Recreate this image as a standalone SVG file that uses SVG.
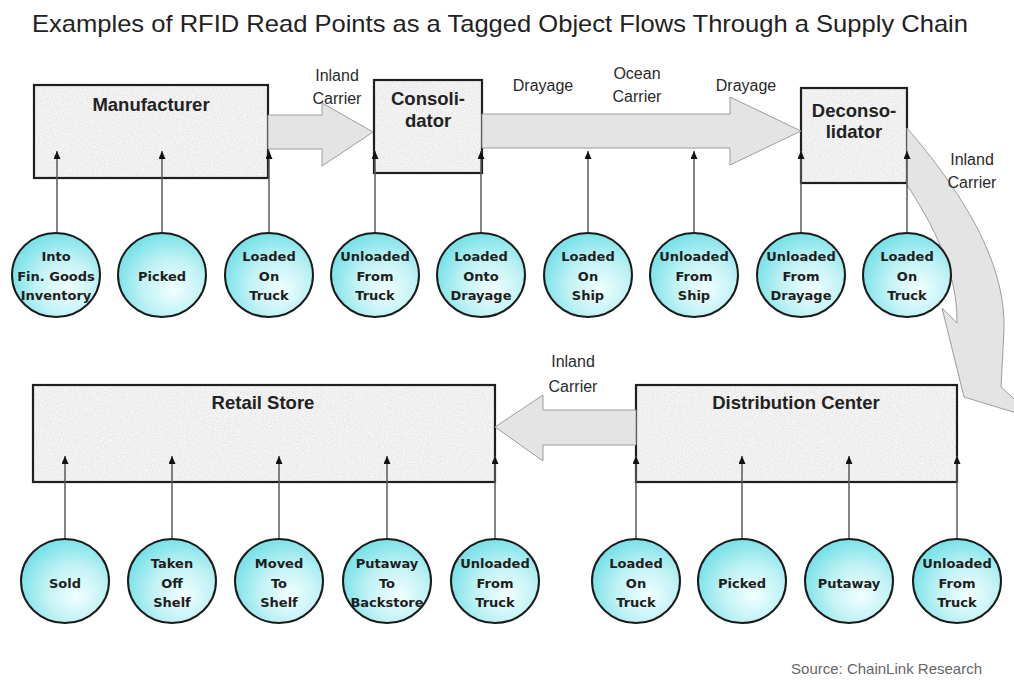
<svg xmlns="http://www.w3.org/2000/svg" width="1014" height="684" viewBox="0 0 1014 684">
<style>
.title{font-family:"Liberation Sans",Arial,sans-serif;font-size:24px;fill:#222}
.lbl{font-family:"Liberation Sans",Arial,sans-serif;font-size:16px;fill:#2a2a2a;text-anchor:middle}
.bt{font-family:"Liberation Sans",Arial,sans-serif;font-size:18.5px;font-weight:bold;fill:#222;text-anchor:middle}
.ct{font-family:"DejaVu Sans",Verdana,sans-serif;font-size:13px;font-weight:bold;fill:#1e1e1e;text-anchor:middle}
.src{font-family:"Liberation Sans",Arial,sans-serif;font-size:15px;fill:#666;text-anchor:end}
.boxfill{filter:url(#speckle)}
.boxedge{fill:none;stroke:#1f1f1f;stroke-width:2.2}
.flow{fill:#e4e4e4;stroke:#9c9c9c;stroke-width:1}
.rl{stroke:#5a5a5a;stroke-width:1.5;fill:none;marker-end:url(#ah)}
.rp{fill:url(#cy);stroke:#1a1a1a;stroke-width:2}
</style>
<defs>
<filter id="speckle" x="0" y="0" width="100%" height="100%">
<feTurbulence type="fractalNoise" baseFrequency="0.9" numOctaves="2" seed="4" result="n"/>
<feColorMatrix in="n" type="matrix" values="0.3 0 0 0 0.72  0.3 0 0 0 0.72  0.3 0 0 0 0.72  0 0 0 0 1" result="g"/>
<feComposite in="g" in2="SourceGraphic" operator="in"/>
</filter>
<radialGradient id="cy" cx="0.6" cy="0.62" r="0.62" fx="0.64" fy="0.68">
<stop offset="0" stop-color="#f2ffff"/>
<stop offset="0.55" stop-color="#c0f2f4"/>
<stop offset="1" stop-color="#7ae2e9"/>
</radialGradient>
<marker id="ah" markerWidth="8" markerHeight="7" refX="8" refY="3.5" orient="auto" markerUnits="userSpaceOnUse">
<path d="M0,0 L8,3.5 L0,7 z" fill="#111"/>
</marker>
</defs>
<rect width="1014" height="684" fill="#ffffff"/>
<text class="title" x="500" y="32" text-anchor="middle" textLength="936" lengthAdjust="spacingAndGlyphs">Examples of RFID Read Points as a Tagged Object Flows Through a Supply Chain</text>

<g id="manufacturer">
<rect class="boxfill" x="34" y="85" width="234" height="93" fill="#fff"/>
<rect class="boxedge" x="34" y="85" width="234" height="93"/>
<text class="bt" x="151" y="111">Manufacturer</text>
</g>
<g id="consolidator">
<rect class="boxfill" x="374" y="80" width="108" height="93" fill="#fff"/>
<rect class="boxedge" x="374" y="80" width="108" height="93"/>
<text class="bt" x="428" y="105">Consoli-</text>
<text class="bt" x="428" y="127">dator</text>
</g>
<g id="deconsolidator">
<rect class="boxfill" x="801" y="88" width="106" height="95" fill="#fff"/>
<rect class="boxedge" x="801" y="88" width="106" height="95"/>
<text class="bt" x="854" y="117">Deconso-</text>
<text class="bt" x="854" y="138">lidator</text>
</g>
<g id="retail-store">
<rect class="boxfill" x="33" y="385" width="462" height="97" fill="#fff"/>
<rect class="boxedge" x="33" y="385" width="462" height="97"/>
<text class="bt" x="263" y="409">Retail Store</text>
</g>
<g id="distribution-center">
<rect class="boxfill" x="636" y="385" width="321" height="97" fill="#fff"/>
<rect class="boxedge" x="636" y="385" width="321" height="97"/>
<text class="bt" x="796" y="409">Distribution Center</text>
</g>

<g id="connectors">
<g id="flows">
<polygon class="flow" points="268,115 322,115 322,103 373,132 322,166 322,149 268,149"/>
<polygon class="flow" points="482,114 730,114 730,97 801,131 730,165 730,148 482,148"/>
<path class="flow" d="M907,128 C960,190 1006,260 1004,330 L1001,387 L1036,419 L964,397 L942,308 L957,323 C958,270 930,220 907,185 Z"/>
<polygon class="flow" points="636,410 543,410 543,395 495,427 543,461 543,445 636,445"/>
<text class="lbl" x="337" y="81">Inland</text>
<text class="lbl" x="337" y="104">Carrier</text>
<text class="lbl" x="543" y="91">Drayage</text>
<text class="lbl" x="637" y="79">Ocean</text>
<text class="lbl" x="637" y="102">Carrier</text>
<text class="lbl" x="746" y="91">Drayage</text>
<text class="lbl" x="972" y="165">Inland</text>
<text class="lbl" x="972" y="188">Carrier</text>
<text class="lbl" x="573" y="367">Inland</text>
<text class="lbl" x="573" y="392">Carrier</text>
</g>
<g id="read-lines">
<line class="rl" x1="57" y1="232" x2="57" y2="151"/>
<line class="rl" x1="162" y1="232" x2="162" y2="151"/>
<line class="rl" x1="269" y1="232" x2="269" y2="151"/>
<line class="rl" x1="375" y1="232" x2="375" y2="151"/>
<line class="rl" x1="481" y1="232" x2="481" y2="151"/>
<line class="rl" x1="588" y1="232" x2="588" y2="151"/>
<line class="rl" x1="694" y1="232" x2="694" y2="151"/>
<line class="rl" x1="801" y1="232" x2="801" y2="151"/>
<line class="rl" x1="907" y1="232" x2="907" y2="151"/>
<line class="rl" x1="65" y1="539" x2="65" y2="456"/>
<line class="rl" x1="172" y1="539" x2="172" y2="456"/>
<line class="rl" x1="279" y1="539" x2="279" y2="456"/>
<line class="rl" x1="387" y1="539" x2="387" y2="456"/>
<line class="rl" x1="495" y1="539" x2="495" y2="456"/>
<line class="rl" x1="636" y1="539" x2="636" y2="456"/>
<line class="rl" x1="742" y1="539" x2="742" y2="456"/>
<line class="rl" x1="849" y1="539" x2="849" y2="456"/>
<line class="rl" x1="957" y1="539" x2="957" y2="456"/>
</g>
</g>

<g id="rp-into-inventory"><ellipse class="rp" cx="56" cy="275" rx="44" ry="42"/><text class="ct" x="56" y="261">Into</text><text class="ct" x="56" y="281">Fin. Goods</text><text class="ct" x="56" y="300">Inventory</text></g>
<g id="rp-picked-1"><ellipse class="rp" cx="162" cy="275" rx="44" ry="42"/><text class="ct" x="162" y="281">Picked</text></g>
<g id="rp-loaded-truck-1"><ellipse class="rp" cx="269" cy="275" rx="44" ry="42"/><text class="ct" x="269" y="261">Loaded</text><text class="ct" x="269" y="281">On</text><text class="ct" x="269" y="300">Truck</text></g>
<g id="rp-unloaded-truck-1"><ellipse class="rp" cx="375" cy="275" rx="44" ry="42"/><text class="ct" x="375" y="261">Unloaded</text><text class="ct" x="375" y="281">From</text><text class="ct" x="375" y="300">Truck</text></g>
<g id="rp-loaded-drayage"><ellipse class="rp" cx="481" cy="275" rx="44" ry="42"/><text class="ct" x="481" y="261">Loaded</text><text class="ct" x="481" y="281">Onto</text><text class="ct" x="481" y="300">Drayage</text></g>
<g id="rp-loaded-ship"><ellipse class="rp" cx="588" cy="275" rx="44" ry="42"/><text class="ct" x="588" y="261">Loaded</text><text class="ct" x="588" y="281">On</text><text class="ct" x="588" y="300">Ship</text></g>
<g id="rp-unloaded-ship"><ellipse class="rp" cx="694" cy="275" rx="44" ry="42"/><text class="ct" x="694" y="261">Unloaded</text><text class="ct" x="694" y="281">From</text><text class="ct" x="694" y="300">Ship</text></g>
<g id="rp-unloaded-drayage"><ellipse class="rp" cx="801" cy="275" rx="44" ry="42"/><text class="ct" x="801" y="261">Unloaded</text><text class="ct" x="801" y="281">From</text><text class="ct" x="801" y="300">Drayage</text></g>
<g id="rp-loaded-truck-2"><ellipse class="rp" cx="907" cy="275" rx="44" ry="42"/><text class="ct" x="907" y="261">Loaded</text><text class="ct" x="907" y="281">On</text><text class="ct" x="907" y="300">Truck</text></g>

<g id="rp-sold"><ellipse class="rp" cx="65" cy="581" rx="44" ry="42"/><text class="ct" x="65" y="588">Sold</text></g>
<g id="rp-taken-off-shelf"><ellipse class="rp" cx="172" cy="581" rx="44" ry="42"/><text class="ct" x="172" y="568">Taken</text><text class="ct" x="172" y="588">Off</text><text class="ct" x="172" y="607">Shelf</text></g>
<g id="rp-moved-to-shelf"><ellipse class="rp" cx="279" cy="581" rx="44" ry="42"/><text class="ct" x="279" y="568">Moved</text><text class="ct" x="279" y="588">To</text><text class="ct" x="279" y="607">Shelf</text></g>
<g id="rp-putaway-backstore"><ellipse class="rp" cx="387" cy="581" rx="44" ry="42"/><text class="ct" x="387" y="568">Putaway</text><text class="ct" x="387" y="588">To</text><text class="ct" x="387" y="607">Backstore</text></g>
<g id="rp-unloaded-truck-3"><ellipse class="rp" cx="495" cy="581" rx="44" ry="42"/><text class="ct" x="495" y="568">Unloaded</text><text class="ct" x="495" y="588">From</text><text class="ct" x="495" y="607">Truck</text></g>
<g id="rp-loaded-truck-3"><ellipse class="rp" cx="636" cy="581" rx="44" ry="42"/><text class="ct" x="636" y="568">Loaded</text><text class="ct" x="636" y="588">On</text><text class="ct" x="636" y="607">Truck</text></g>
<g id="rp-picked-2"><ellipse class="rp" cx="742" cy="581" rx="44" ry="42"/><text class="ct" x="742" y="588">Picked</text></g>
<g id="rp-putaway"><ellipse class="rp" cx="849" cy="581" rx="44" ry="42"/><text class="ct" x="849" y="588">Putaway</text></g>
<g id="rp-unloaded-truck-4"><ellipse class="rp" cx="957" cy="581" rx="44" ry="42"/><text class="ct" x="957" y="568">Unloaded</text><text class="ct" x="957" y="588">From</text><text class="ct" x="957" y="607">Truck</text></g>

<text class="src" x="982" y="674">Source: ChainLink Research</text>
</svg>
